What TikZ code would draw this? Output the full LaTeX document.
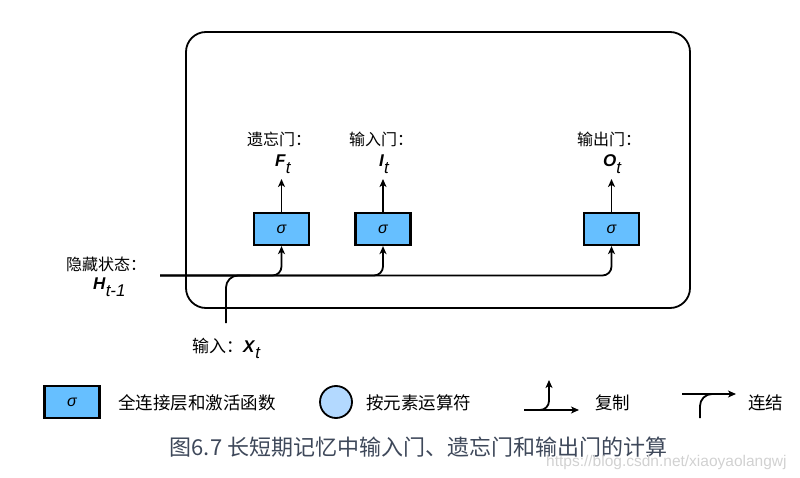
\documentclass[tikz,border=0pt]{standalone}
\usepackage{fontspec}
\setmainfont{Liberation Sans}
\newfontfamily\cjk{Noto Sans CJK SC}
\usetikzlibrary{arrows.meta}
\definecolor{gateblue}{RGB}{102,191,255}
\definecolor{opblue}{RGB}{179,217,255}
\definecolor{capcol}{RGB}{62,72,90}
\tikzset{
 line/.style={line width=1.8pt},
 conn/.style={line, -{Stealth[length=8pt,width=7pt,inset=2.2pt]}},
 gate/.style={draw, line width=2.2pt, fill=gateblue, minimum width=55pt, minimum height=32pt, inner sep=0pt, font=\fontsize{16}{16}\selectfont\itshape},
 cjklab/.style={inner sep=0pt, anchor=west, font=\cjk\fontsize{16}{16}\selectfont},
 var/.style={inner sep=0pt, anchor=base west, font=\fontsize{17}{17}\selectfont},
 leg/.style={inner sep=0pt, anchor=west, font=\cjk\fontsize{17.5}{17.5}\selectfont},
}
\newcommand{\vsub}[2]{\textbf{\textit{#1}}\raisebox{-0.4em}{\textit{#2}}}
\begin{document}
\begin{tikzpicture}[x=1pt,y=-1pt]
\useasboundingbox (0,0) rectangle (800,478);
\node[draw, line width=1.8pt, rounded corners=20pt, minimum width=504pt, minimum height=276pt, inner sep=0pt] (cell) at (438,170) {};
% gates
\node[gate] (f) at (281.5,229) {σ};
\node[gate] (i) at (383,229) {σ};
\node[gate] (o) at (611.5,229) {σ};
% labels
\node[cjklab] (fl) at (247,139.5) {遗忘门：};
\node[cjklab] (il) at (349,139.5) {输入门：};
\node[cjklab] (ol) at (577,139.5) {输出门：};
\node[var] (ft) at (275,167) {\vsub{F}{t}};
\node[var] (it) at (379,167) {\vsub{I}{t}};
\node[var] (ot) at (603,167) {\vsub{O}{t}};
\coordinate (fo) at (281.5,179);
\coordinate (io) at (383,179);
\coordinate (oo) at (611.5,179);
\draw[conn] (f.north) -- (fo);
\draw[conn] (i.north) -- (io);
\draw[conn] (o.north) -- (oo);
% hidden state and input
\node[cjklab] (hl) at (66,264.5) {隐藏状态：};
\node[var] (ht) at (93,290) {\vsub{H}{t-1}};
\coordinate (hs) at (160,275.5);
\node[cjklab, font=\cjk\fontsize{17}{17}\selectfont] (xl) at (192,346) {输入：};
\node[var] (xt) at (243,352) {\vsub{X}{t}};
\coordinate (xs) at (226,323);
\draw[conn, rounded corners=9pt] (hs) -- (f.south |- hs) -- (f.south);
\draw[conn, rounded corners=9pt] (hs) -- (i.south |- hs) -- (i.south);
\draw[conn, rounded corners=9pt] (hs) -- (o.south |- hs) -- (o.south);
\draw[line, rounded corners=12pt] (xs) -- (xs |- hs) -- ++(24,0);
% legend
\node[gate] (lg) at (72,402) {σ};
\node[leg] (lgt) at (118,403) {全连接层和激活函数};
\node[draw, line width=1.8pt, circle, fill=opblue, minimum size=32pt, inner sep=0pt] (lc) at (336,402) {};
\node[leg] (lct) at (366,403) {按元素运算符};
\coordinate (c1) at (524,410);
\coordinate (c2) at (579,410);
\coordinate (c3) at (549,380);
\draw[conn] (c1) -- (c2);
\draw[conn, rounded corners=9pt] (c1) -- (c3 |- c1) -- (c3);
\node[leg] (cpt) at (595,403) {复制};
\coordinate (k1) at (682,394);
\coordinate (k2) at (736,394);
\coordinate (k3) at (700,418);
\draw[conn] (k1) -- (k2);
\draw[line, rounded corners=12pt] (k3) -- (k3 |- k1) -- ++(20,0);
\node[leg] (kt) at (748,403) {连结};
% caption
\node[inner sep=0pt, font=\cjk\fontsize{22}{22}\selectfont, text=capcol] (cap) at (418.5,447) {图6.7 长短期记忆中输入门、遗忘门和输出门的计算};
\node[inner sep=0pt, anchor=west, font=\fontsize{15.5}{15.5}\selectfont, text=black!18] (wm) at (546,462) {https://blog.csdn.net/xiaoyaolangwj};
\end{tikzpicture}
\end{document}
